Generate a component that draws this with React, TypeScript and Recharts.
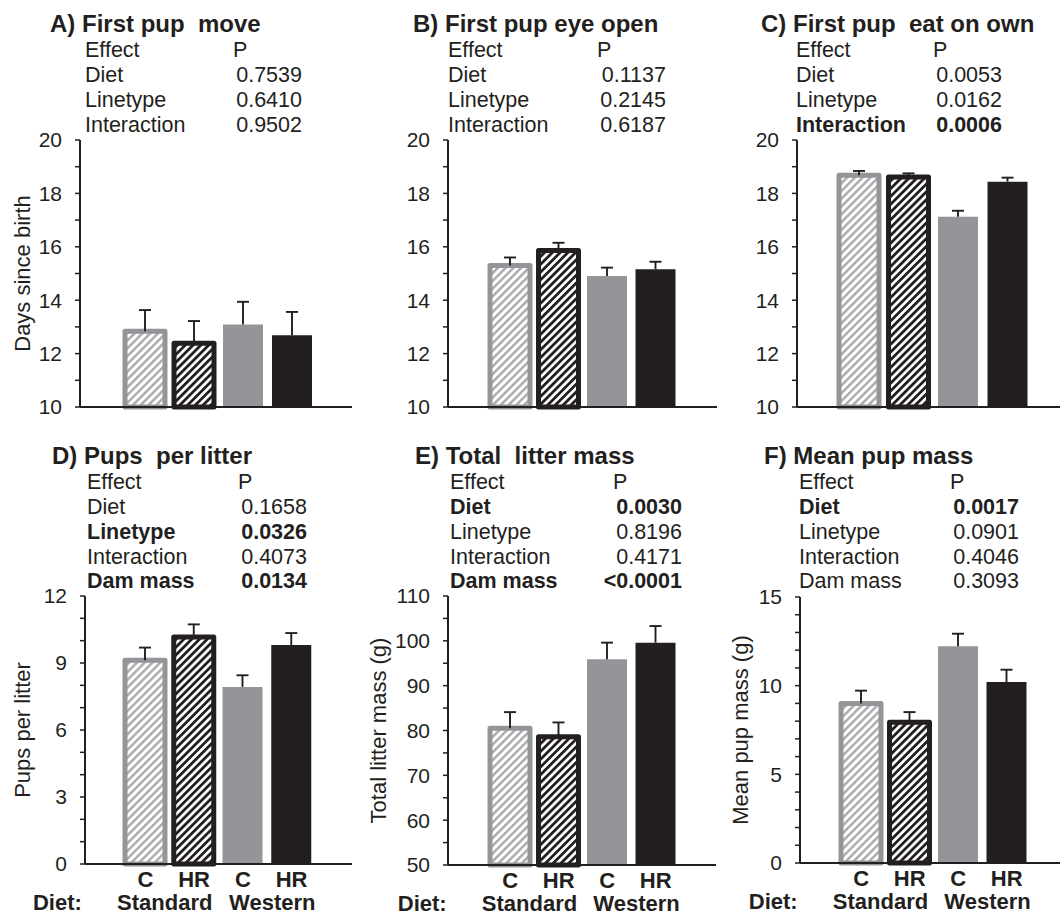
import React from 'react'
import { BarChart, Bar, XAxis, YAxis, Cell } from 'recharts'

// groups along the x axis
const treatments = ['C', 'HR', 'C', 'HR']
const diets = ['Standard', 'Western']

// A) first pup move (days)
const moveMean = [12.84, 12.39, 13.09, 12.69]
const moveErr = [0.79, 0.83, 0.85, 0.87]
// B) first pup eye open
const eyeMean = [15.3, 15.86, 14.91, 15.16]
const eyeErr = [0.3, 0.29, 0.31, 0.28]
// C) first pup eat on own
const eatMean = [18.68, 18.61, 17.13, 18.44]
const eatErr = [0.16, 0.14, 0.22, 0.15]
// D) pups per litter
const pupsMean = [9.12, 10.16, 7.93, 9.81]
const pupsErr = [0.57, 0.57, 0.52, 0.53]
// E) total litter mass (g)
const litterMean = [80.5, 78.6, 95.9, 99.6]
const litterErr = [3.6, 3.2, 3.7, 3.7]
// F) mean pup mass (g)
const pupMassMean = [9.0, 7.93, 12.22, 10.21]
const pupMassErr = [0.72, 0.58, 0.71, 0.69]

// y ticks (minor + labelled)
const dayTicks = [10, 11, 12, 13, 14, 15, 16, 17, 18, 19, 20]
const dayLabels = [10, 12, 14, 16, 18, 20]
const pupsTicks = [0, 1, 2, 3, 4, 5, 6, 7, 8, 9, 10, 11, 12]
const pupsLabels = [0, 3, 6, 9, 12]
const litterTicks = [50, 55, 60, 65, 70, 75, 80, 85, 90, 95, 100, 105, 110]
const litterLabels = [50, 60, 70, 80, 90, 100, 110]
const pupMassTicks = [0, 1, 2, 3, 4, 5, 6, 7, 8, 9, 10, 11, 12, 13, 14, 15]
const pupMassLabels = [0, 5, 10, 15]

// stats tables
const effects3 = ['Diet', 'Linetype', 'Interaction']
const effects4 = ['Diet', 'Linetype', 'Interaction', 'Dam mass']
const moveP = ['0.7539', '0.6410', '0.9502']
const moveBold = [false, false, false]
const eyeP = ['0.1137', '0.2145', '0.6187']
const eyeBold = [false, false, false]
const eatP = ['0.0053', '0.0162', '0.0006']
const eatBold = [false, false, true]
const pupsP = ['0.1658', '0.0326', '0.4073', '0.0134']
const pupsBold = [false, true, false, true]
const litterP = ['0.0030', '0.8196', '0.4171', '<0.0001']
const litterBold = [true, false, false, true]
const pupMassP = ['0.0017', '0.0901', '0.4046', '0.3093']
const pupMassBold = [true, false, false, false]

const FONT = '"Liberation Sans", Arial, Helvetica, sans-serif'
const BLACK = '#231f20'
const GREY = '#939598'
const TOP = 16

const DietTick = (props: any) => {
  const { x, y, payload, index } = props
  const half = payload && payload.offset ? payload.offset : 24
  const txt = { fontSize: 22, fontWeight: 'bold' as const, fill: BLACK, fontFamily: FONT }
  return (
    <g>
      <text x={x} y={y + 23} textAnchor="middle" {...txt}>{treatments[index]}</text>
      {index % 2 === 0 && (
        <text x={x + half + (index === 0 ? -5 : 5)} y={y + 46} textAnchor="middle" {...txt}>{diets[index / 2]}</text>
      )}
      {index === 0 && (
        <text x={x - 88} y={y + 46} textAnchor="middle" {...txt}>Diet:</text>
      )}
    </g>
  )
}

// upper half of the SE bar, drawn from a range bar [mean, mean + se]
const ErrShape = (props: any) => {
  const { x, y, width, height } = props
  if (x == null || y == null) return null
  const cx = x + width / 2
  return (
    <g>
      <line x1={cx} x2={cx} y1={y} y2={y + height} stroke={BLACK} strokeWidth={1.9} />
      <line x1={cx - 6} x2={cx + 6} y1={y} y2={y} stroke={BLACK} strokeWidth={1.9} />
    </g>
  )
}

interface PanelProps {
  id: string
  means: number[]
  errs: number[]
  domain: [number, number]
  ticks: number[]
  labels: number[]
  yLabel?: string
  labelX?: number
  chartLeft: number
  plotLeft: number
  plotRight: number
  plotTop: number
  plotBottom: number
  padL: number
  padR: number
  showX: boolean
}

const Panel = (p: PanelProps) => {
  const data = treatments.map((t, i) => ({ name: `${t}-${i}`, v: p.means[i], se: [p.means[i], p.means[i] + p.errs[i]] }))
  const xh = p.showX ? 56 : 16
  const width = p.plotRight - p.chartLeft + 4
  const height = p.plotBottom - p.plotTop + TOP + xh
  const fills = [`url(#hg-${p.id})`, `url(#hb-${p.id})`, GREY, BLACK]
  const strokes = [GREY, BLACK, 'none', 'none']
  return (
    <div style={{ position: 'absolute', left: p.chartLeft, top: p.plotTop - TOP }}>
      <BarChart
        width={width}
        height={height}
        data={data}
        margin={{ top: TOP, right: 4, left: 0, bottom: 0 }}
        barSize={40}
        barGap={-40}
        barCategoryGap={0}
      >
        <defs>
          <pattern id={`hg-${p.id}`} patternUnits="userSpaceOnUse" width={5.5} height={5.5} patternTransform="rotate(45)">
            <rect width={5.5} height={5.5} fill="#fff" />
            <rect width={2.4} height={5.5} fill="#a7a9ac" />
          </pattern>
          <pattern id={`hb-${p.id}`} patternUnits="userSpaceOnUse" width={5.5} height={5.5} patternTransform="rotate(45)">
            <rect width={5.5} height={5.5} fill="#fff" />
            <rect width={2.8} height={5.5} fill={BLACK} />
          </pattern>
        </defs>
        <XAxis
          dataKey="name"
          padding={{ left: p.padL, right: p.padR }}
          axisLine={{ stroke: BLACK, strokeWidth: 2 }}
          tickLine={false}
          tickSize={0}
          tickMargin={0}
          interval={0}
          height={xh}
          tick={p.showX ? <DietTick /> : false}
        />
        <XAxis xAxisId="top" dataKey="name" orientation="top" height={0} tick={false} tickLine={false}
          axisLine={{ stroke: BLACK, strokeWidth: 1.5 }} />
        <YAxis
          type="number"
          domain={p.domain}
          ticks={p.ticks}
          interval={0}
          width={p.plotLeft - p.chartLeft}
          tickSize={5}
          tickMargin={13}
          axisLine={{ stroke: BLACK, strokeWidth: 2 }}
          tickLine={{ stroke: BLACK, strokeWidth: 1.5 }}
          tick={{ fill: BLACK, fontSize: 21, fontFamily: FONT }}
          tickFormatter={(v: number) => (p.labels.includes(v) ? String(v) : '')}
          label={p.yLabel ? {
            value: p.yLabel, angle: -90, position: 'insideLeft', offset: p.labelX,
            style: { textAnchor: 'middle', fontSize: 22, fill: BLACK, fontFamily: FONT },
          } : undefined}
        />
        <YAxis yAxisId="r" orientation="right" type="number" domain={p.domain} width={0} tick={false} tickLine={false}
          axisLine={{ stroke: BLACK, strokeWidth: 1.5 }} />
        <Bar dataKey="v" isAnimationActive={false}>
          {data.map((d, i) => (
            <Cell key={d.name} fill={fills[i]} stroke={strokes[i]} strokeWidth={i < 2 ? 5 : 0} strokeLinejoin="round" />
          ))}
        </Bar>
        <Bar dataKey="se" isAnimationActive={false} shape={<ErrShape />} />
      </BarChart>
    </div>
  )
}

const StatsTable = ({ x, px, y, title, effects, pvals, bold }: {
  x: number; px: number; y: number; title: string; effects: string[]; pvals: string[]; bold: boolean[]
}) => {
  const tx = { fontSize: 21.5, fill: BLACK, fontFamily: FONT }
  return (
    <g>
      <text x={x - 35} y={y} fontSize={24} fontWeight="bold" fill={BLACK} fontFamily={FONT}>{title}</text>
      <text x={x} y={y + 25} {...tx}>Effect</text>
      <text x={px} y={y + 25} {...tx}>P</text>
      {effects.map((e, i) => (
        <g key={e}>
          <text x={x} y={y + 50 + i * 24.8} {...tx} fontWeight={bold[i] ? 'bold' : 'normal'}>{e}</text>
          <text x={px + 69} y={y + 50 + i * 24.8} textAnchor="end" {...tx} fontWeight={bold[i] ? 'bold' : 'normal'}>{pvals[i]}</text>
        </g>
      ))}
    </g>
  )
}

const App = () => (
  <div style={{ position: 'absolute', left: 0, top: 0, width: 1060, height: 915, background: '#fff', overflow: 'hidden' }}>
    <Panel id="a" means={moveMean} errs={moveErr} domain={[10, 20]} ticks={dayTicks} labels={dayLabels}
      yLabel="Days since birth" labelX={22}
      chartLeft={0} plotLeft={80} plotRight={352} plotTop={140} plotBottom={407} padL={40} padR={36} showX={false} />
    <Panel id="b" means={eyeMean} errs={eyeErr} domain={[10, 20]} ticks={dayTicks} labels={dayLabels}
      chartLeft={360} plotLeft={448} plotRight={717} plotTop={140} plotBottom={407} padL={38} padR={37} showX={false} />
    <Panel id="c" means={eatMean} errs={eatErr} domain={[10, 20]} ticks={dayTicks} labels={dayLabels}
      chartLeft={720} plotLeft={797} plotRight={1061} plotTop={140} plotBottom={407} padL={37} padR={29} showX={false} />
    <Panel id="d" means={pupsMean} errs={pupsErr} domain={[0, 12]} ticks={pupsTicks} labels={pupsLabels}
      yLabel="Pups per litter" labelX={22}
      chartLeft={0} plotLeft={85} plotRight={352} plotTop={596} plotBottom={864} padL={36} padR={36} showX />
    <Panel id="e" means={litterMean} errs={litterErr} domain={[50, 110]} ticks={litterTicks} labels={litterLabels}
      yLabel="Total litter mass (g)" labelX={18}
      chartLeft={360} plotLeft={448} plotRight={716} plotTop={596} plotBottom={865} padL={38} padR={36} showX />
    <Panel id="f" means={pupMassMean} errs={pupMassErr} domain={[0, 15]} ticks={pupMassTicks} labels={pupMassLabels}
      yLabel="Mean pup mass (g)" labelX={20}
      chartLeft={720} plotLeft={800} plotRight={1061} plotTop={597} plotBottom={863} padL={37} padR={30} showX />
    <svg width={1060} height={915} style={{ position: 'absolute', left: 0, top: 0, pointerEvents: 'none' }}>
      <StatsTable x={85} px={233} y={32} title={'A) First pup\u00a0 move'} effects={effects3} pvals={moveP} bold={moveBold} />
      <StatsTable x={448} px={597} y={32} title="B) First pup eye open" effects={effects3} pvals={eyeP} bold={eyeBold} />
      <StatsTable x={796} px={933} y={32} title={'C) First pup\u00a0 eat on own'} effects={effects3} pvals={eatP} bold={eatBold} />
      <StatsTable x={87} px={238} y={464} title={'D) Pups\u00a0 per litter'} effects={effects4} pvals={pupsP} bold={pupsBold} />
      <StatsTable x={450} px={613} y={464} title={'E) Total\u00a0 litter mass'} effects={effects4} pvals={litterP} bold={litterBold} />
      <StatsTable x={799} px={950} y={464} title="F) Mean pup mass" effects={effects4} pvals={pupMassP} bold={pupMassBold} />
    </svg>
  </div>
)

export default App
